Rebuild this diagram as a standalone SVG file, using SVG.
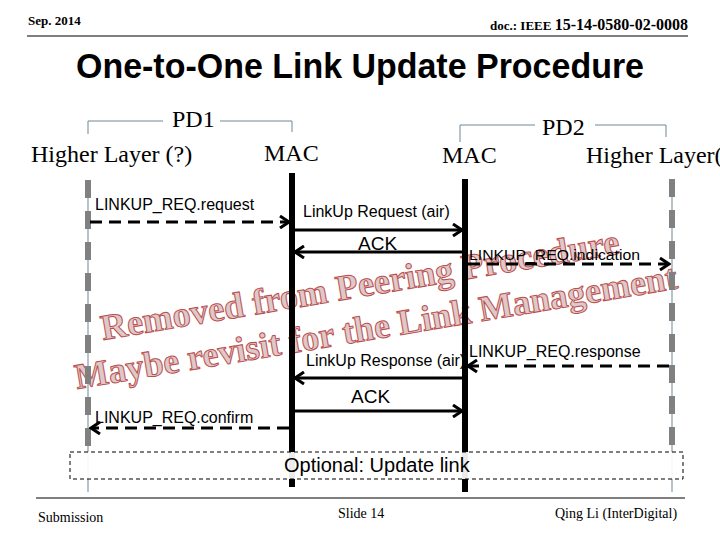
<svg xmlns="http://www.w3.org/2000/svg" width="720" height="540" viewBox="0 0 720 540">
<style>
.hdr{font-family:"Liberation Serif",serif;font-weight:bold;fill:#000}
.title{font-family:"Liberation Sans",Arial,sans-serif;font-weight:bold;font-size:35px;fill:#000}
.ent{font-family:"Liberation Serif",serif;font-size:24px;fill:#000}
.lbl{font-family:"Liberation Sans",Arial,sans-serif;font-size:16px;fill:#000}
.ack{font-family:"Liberation Sans",Arial,sans-serif;font-size:19px;fill:#000}
.foot{font-family:"Liberation Serif",serif;font-size:14px;fill:#000}
.brk{fill:none;stroke:#6e8796;stroke-width:1}
.thin{stroke:#6e8796;stroke-width:1}
.gdash{stroke:#808080;stroke-width:6;stroke-dasharray:18 13}
.mac{stroke:#000;stroke-width:6}
.solid{stroke:#000;stroke-width:3;fill:none;marker-end:url(#arr)}
.dash{stroke:#000;stroke-width:3;fill:none;stroke-dasharray:12 7;marker-end:url(#arr)}
.wm{font-family:"Liberation Serif",serif;font-weight:bold;font-size:36px;fill:#dcc3c3;stroke:#b43c3c;stroke-width:1}
</style>
<defs>
<marker id="arr" markerUnits="userSpaceOnUse" markerWidth="12" markerHeight="14" refX="10" refY="7" orient="auto">
<path d="M1,1 L10,7 L1,13" fill="none" stroke="#000" stroke-width="3"/>
</marker>
</defs>
<rect width="720" height="540" fill="#fff"/>
<g id="header">
<text class="hdr" x="28" y="25" font-size="13">Sep. 2014</text>
<text class="hdr" x="688" y="30" text-anchor="end"><tspan font-size="13">doc.: IEEE </tspan><tspan font-size="16">15-14-0580-02-0008</tspan></text>
<line x1="27" y1="36" x2="688" y2="36" stroke="#000" stroke-width="1"/>
<text class="title" x="76" y="78" textLength="568" lengthAdjust="spacingAndGlyphs">One-to-One Link Update Procedure</text>
</g>
<g id="watermark" opacity="0.9">
<text class="wm" x="103" y="340" transform="rotate(-9.5 103 340)" textLength="525" lengthAdjust="spacingAndGlyphs">Removed from Peering Procedure</text>
<text class="wm" x="77" y="389" transform="rotate(-9.5 77 389)" textLength="610" lengthAdjust="spacingAndGlyphs">Maybe revisit for the Link Management</text>
</g>
<g id="pd1">
<path class="brk" d="M88,134 V121 H163 M220,121 H292 V132"/>
<text class="ent" x="172" y="127">PD1</text>
</g>
<g id="pd2">
<path class="brk" d="M460,142 V125 H535 M595,125 H666 V137"/>
<text class="ent" x="542" y="135">PD2</text>
</g>
<g id="hl1">
<text class="ent" x="31" y="162">Higher Layer (?)</text>
<line class="thin" x1="88" y1="180" x2="88" y2="492"/>
<line class="gdash" x1="88" y1="180" x2="88" y2="449"/>
</g>
<g id="mac1">
<text class="ent" x="264" y="161">MAC</text>
<line class="mac" x1="292" y1="173" x2="292" y2="487"/>
</g>
<g id="mac2">
<text class="ent" x="442" y="163">MAC</text>
<line class="mac" x1="465" y1="179" x2="465" y2="492"/>
</g>
<g id="hl2">
<text class="ent" x="586" y="163">Higher Layer(</text>
<line class="thin" x1="672" y1="179" x2="672" y2="492"/>
<line class="gdash" x1="672" y1="179" x2="672" y2="449"/>
</g>
<g id="connectors">
<line class="dash" x1="90" y1="222" x2="289" y2="222"/>
<line class="solid" x1="295" y1="230" x2="462" y2="230"/>
<line class="solid" x1="462" y1="252" x2="295" y2="252"/>
<line class="dash" x1="468" y1="264" x2="669" y2="264"/>
<line class="dash" x1="669" y1="366" x2="468" y2="366"/>
<line class="solid" x1="462" y1="378" x2="295" y2="378"/>
<line class="solid" x1="295" y1="411" x2="462" y2="411"/>
<line class="dash" x1="289" y1="428" x2="91" y2="428"/>
<text class="lbl" x="95" y="210">LINKUP_REQ.request</text>
<text class="lbl" x="303" y="217">LinkUp Request (air)</text>
<text class="ack" x="358" y="250">ACK</text>
<text class="lbl" x="469" y="260" style="font-size:14px" textLength="171" lengthAdjust="spacingAndGlyphs">LINKUP_REQ.indication</text>
<text class="lbl" x="469" y="357">LINKUP_REQ.response</text>
<text class="lbl" x="306" y="366">LinkUp Response (air)</text>
<text class="ack" x="351" y="403">ACK</text>
<text class="lbl" x="95" y="423">LINKUP_REQ.confirm</text>
</g>
<g id="optional">
<rect x="70" y="452" width="613" height="27" fill="#fff" fill-opacity="0.92" stroke="#000" stroke-width="1" stroke-dasharray="4 3"/>
<text class="lbl" x="284" y="472" style="font-size:20px">Optional: Update link</text>
</g>
<g id="footer">
<line x1="36" y1="498" x2="685" y2="498" stroke="#000" stroke-width="1"/>
<text class="foot" x="38" y="522">Submission</text>
<text class="foot" x="338" y="518">Slide 14</text>
<text class="foot" x="555" y="518">Qing Li (InterDigital)</text>
</g>
</svg>
